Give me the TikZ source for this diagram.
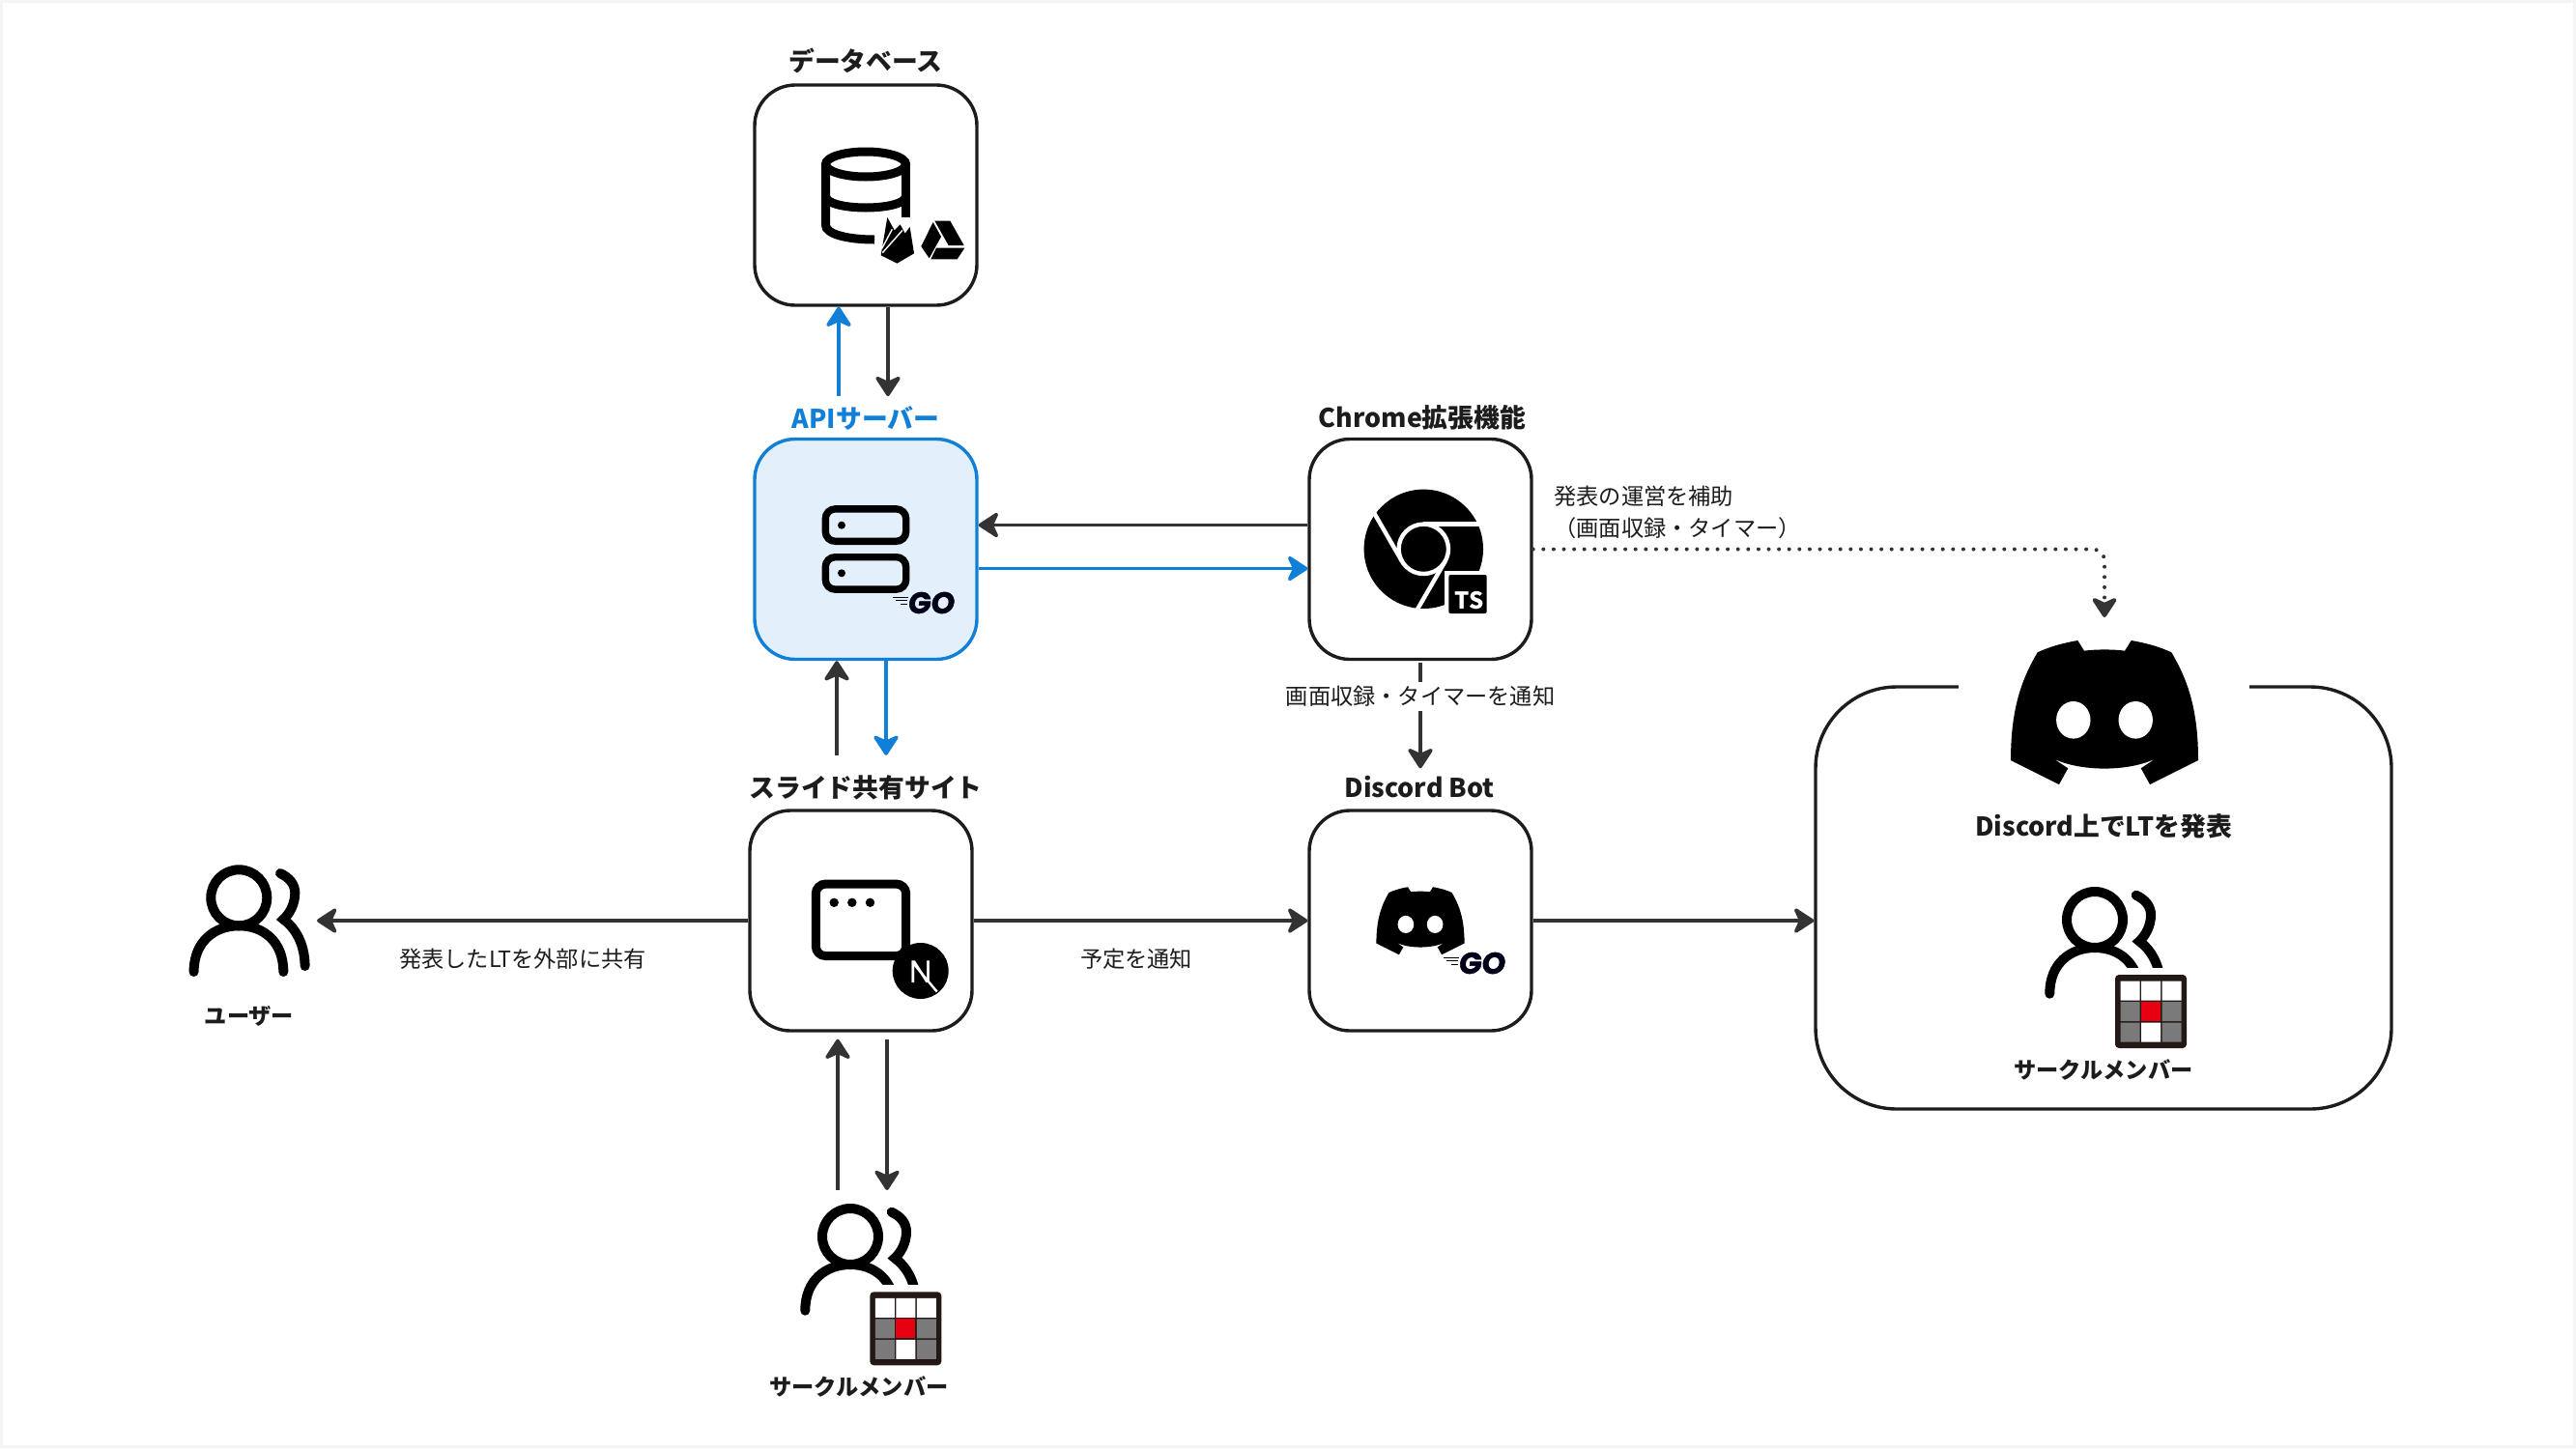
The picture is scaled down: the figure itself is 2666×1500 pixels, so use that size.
\documentclass[tikz,border=0pt]{standalone}
\usepackage{fontspec}
\usepackage{xcolor}
\usetikzlibrary{arrows.meta}
\setmainfont{Noto Sans CJK JP}
\newfontfamily\gofont[BoldFeatures={FakeSlant=0.12,FakeBold=1.5}]{Poppins}
\newfontfamily\nextfont{Liberation Sans}
\definecolor{wire}{HTML}{333333}
\definecolor{boxline}{HTML}{1C1C1C}
\definecolor{apiblue}{HTML}{0F7FD8}
\definecolor{apifill}{HTML}{E3F0FB}
\definecolor{framegray}{HTML}{F5F5F5}
\definecolor{badgeframe}{HTML}{231815}
\definecolor{badgegray}{HTML}{7A7A7A}
\definecolor{badgered}{HTML}{E60012}

\begin{document}
\begin{tikzpicture}
	[x=0.5pt,y=-0.5pt,
	>={Stealth[length=12pt,width=15.5pt,inset=3.5pt,round]},
	box/.style = {
		draw=boxline, fill=white, line width=1.7pt,
		rounded corners=21pt, minimum width=115pt, minimum height=114pt
	},
	title/.style = {
		inner sep=0pt, text=boxline, font=\fontsize{13.4}{15}\selectfont\bfseries
	},
	minilabel/.style = {
		inner sep=0pt, text=boxline, font=\fontsize{11.6}{14}\selectfont\bfseries
	},
	note/.style = {
		inner sep=0pt, text=boxline, font=\fontsize{11.6}{14}\selectfont
	},
	blackwire/.style = {
		draw=wire, line width=1.8pt
	},
	bluewire/.style = {
		draw=apiblue, line width=1.8pt
	},
	dotwire/.style = {
		draw=wire, line width=2pt, line cap=round,
		dash pattern=on 0pt off 5.3pt, rounded corners=6pt
	},
	dbicon/.pic = {
		\draw[line width=4.5pt] (0,0) ellipse [x radius=41.5, y radius=13];
		\draw[line width=4.5pt] (-41.5,0) -- (-41.5,63) .. controls (-41.5,72) and (-20,78) .. (9,78);
		\draw[line width=4.5pt] (-41.5,33) .. controls (-41.5,41) and (-20,45) .. (0,45) .. controls (20,45) and (41.5,41) .. (41.5,33);
		\draw[line width=4.5pt] (41.5,0) -- (41.5,55);
	},
	storebadges/.pic = {
		%flame
		\fill (475,585) -- (497,625) -- (515,607) -- (530,635) -- (545,615) -- (558,697) -- (505,728) -- (455,703) -- cycle;
		\draw[white,line width=0.7pt] (458,682) -- (490,622);
		\draw[white,line width=0.7pt] (460,695) -- (522,625);
		%drive
		\fill (617,600) -- (580,675) -- (605,712) -- (642,645) -- cycle;
		\fill (622,596) -- (670,596) -- (713,672) -- (665,672) -- cycle;
		\fill (627,680) -- (715,680) -- (692,715) -- (610,715) -- cycle;
	},
	servericon/.pic = {
		\draw[line width=3.7pt,rounded corners=5pt] (-41.7,-41.6) rectangle (41.7,-8.2);
		\draw[line width=3.7pt,rounded corners=5pt] (-41.7,8.2) rectangle (41.7,41.6);
		\fill (-25,-24.8) circle [radius=4];
		\fill (-25,24.8) circle [radius=4];
	},
	golang/.pic = {
		\node[inner sep=0pt,text=black!90!blue,font=\fontsize{15.5}{15}\gofont\bfseries] (gotext) at (0,0) {GO};
		\draw[line width=0.5pt] (-38.7,-5.7) -- (-23,-5.7);
		\draw[line width=0.5pt] (-36,-2.3) -- (-24,-2.3);
		\draw[line width=0.5pt] (-31,1) -- (-24,1);
	},
	chromeicon/.pic = {
		\fill (0,0) circle [radius=61.7];
		\draw[white,line width=2.2pt] (0,0) circle [radius=25.7];
		\draw[white,line width=2.2pt] (0,-25.7) -- (62,-25.7);
		\draw[white,line width=2.2pt,rotate=-120] (0,-25.7) -- (62,-25.7);
		\draw[white,line width=2.2pt,rotate=-240] (0,-25.7) -- (62,-25.7);
		\fill[white] (22,23) rectangle (69,70);
		\fill[rounded corners=1pt] (26,26.7) rectangle (65.4,66.7);
		\node[inner sep=0pt,text=white,font=\fontsize{12}{12}\selectfont\bfseries] (tstext) at (47,53) {TS};
	},
	browsericon/.pic = {
		\draw[line width=4.5pt,rounded corners=5pt] (-46.7,-37.2) rectangle (46.7,37.2);
		\fill (-27.8,-18) circle [radius=4.7];
		\fill (-9.2,-18) circle [radius=4.7];
		\fill (9.5,-18) circle [radius=4.7];
		\fill (61.7,52.7) circle [radius=29];
		\node[inner sep=0pt,text=white,font=\fontsize{16.5}{15}\nextfont] (ntext) at (61.7,53.5) {N};
		\draw[white,line width=1.2pt] (53.7,44.3) -- (78.7,74.3);
	},
	discordicon/.pic = {
		\fill (-27.7,-74) -- (-21,-63.3) .. controls (-10,-65) and (10,-65) .. (21,-63.3) -- (27.7,-74)
		.. controls (45,-71) and (58,-67) .. (69.3,-61.7) .. controls (85,-35) and (97,-5) .. (97,50)
		-- (47,75) -- (37.7,58.3) -- (52.7,48.3) .. controls (25,62) and (-25,62) .. (-52.7,48.3)
		-- (-37.7,58.3) -- (-47,75) -- (-97,50) .. controls (-97,-5) and (-85,-35) .. (-69.3,-61.7)
		.. controls (-58,-67) and (-45,-71) .. (-27.7,-74) -- cycle;
		\fill[white] (-32.2,8.3) ellipse [x radius=17.7, y radius=19.3];
		\fill[white] (32.2,8.3) ellipse [x radius=17.7, y radius=19.3];
	},
	usericon/.pic = {
		\draw[line width=5pt,line cap=round] (0,5) circle [radius=29];
		\draw[line width=5pt,line cap=round] (-46.7,81.7) .. controls (-46.7,50) and (-25,34) .. (0,34) .. controls (25,34) and (46,50) .. (46,81.7);
		\draw[line width=5pt,line cap=round] (42.7,-20.3) .. controls (52,-16) and (58,-9) .. (58,0) .. controls (58,12) and (52,22) .. (46,27.3) .. controls (58,36) and (68,52) .. (68.3,75.7);
	},
	circlebadge/.pic = {
		\fill[white] (-44,-45) rectangle (44,45);
		\fill[badgeframe,rounded corners=2pt] (-37,-38) rectangle (37,38);
		\fill[white] (-31.5,-31.5) rectangle (-11.5,-11.5) (-10,-31.5) rectangle (10,-11.5) (11.5,-31.5) rectangle (31.5,-11.5) (-10,11.5) rectangle (10,31.5);
		\fill[badgegray] (-31.5,-10) rectangle (-11.5,10) (11.5,-10) rectangle (31.5,10) (-31.5,11.5) rectangle (-11.5,31.5) (11.5,11.5) rectangle (31.5,31.5);
		\fill[badgered] (-10,-10) rectangle (10,10);
	}]
	
	\useasboundingbox (0,0) rectangle (2666,1500);
	\draw[framegray,line width=1.5pt] (1.5,1.5) rectangle (2664.5,1497);
	
	%Draw boxes
	\node[box] at (896,202) (DB) {};
	\node[box,draw=apiblue,fill=apifill] at (896,568.5) (API) {};
	\node[box] at (1470,568.5) (Chrome) {};
	\node[box] at (891,953) (Slide) {};
	\node[box] at (1470,953) (Bot) {};
	\node[draw=boxline,line width=1.7pt,rounded corners=42pt,minimum width=298pt,minimum height=218.5pt] at (2177,929.5) (stage) {};
	\node[fill=white,minimum width=150.5pt,minimum height=6pt,inner sep=0pt] at (2177.5,711) (stagegap) {};
	
	%Draw labels
	\node[title] at (896,63) (DBlabel) {データベース};
	\node[title,text=apiblue] at (896,433) (APIlabel) {APIサーバー};
	\node[title] at (1472,432) (Chromelabel) {Chrome拡張機能};
	\node[title] at (896,815) (Slidelabel) {スライド共有サイト};
	\node[title] at (1469,815) (Botlabel) {Discord Bot};
	\node[title] at (2177,855) (stagelabel) {Discord上でLTを発表};
	\node[minilabel] at (258,1052) (userlabel) {ユーザー};
	\node[minilabel] at (889,1435) (memberlabel) {サークルメンバー};
	\node[minilabel] at (2177,1107) (stagememberlabel) {サークルメンバー};
	\node[note,anchor=west] at (1608,514) (assist) {発表の運営を補助};
	\node[note,anchor=west] at (1608,547) (assist2) {（画面収録・タイマー）};
	\node[note] at (541,993) (sharelabel) {発表したLTを外部に共有};
	\node[note] at (1176,993) (planlabel) {予定を通知};
	
	\coordinate (usertip) at (328,953);
	\coordinate (membertop) at (892,1232);
	\coordinate (dottip) at (2178,639);
	
	%Draw icons
	\pic at (896,170) {dbicon};
	\pic[scale=1/3] at (760,30) {storebadges};
	\pic at (896,568.5) {servericon};
	\pic at (963,624) {golang};
	\pic at (1473.3,568.3) {chromeicon};
	\pic at (891,952.3) {browsericon};
	\pic[scale=0.47] at (1470,953) {discordicon};
	\pic at (1533,997) {golang};
	\pic at (2178,737) {discordicon};
	\pic at (247.3,924.3) {usericon};
	\pic at (880,1275) {usericon};
	\pic at (937.3,1375.3) {circlebadge};
	\pic at (2168,947) {usericon};
	\pic at (2226,1047) {circlebadge};
	
	%Draw wires
	\draw[->,bluewire,shorten <=5pt] ([xshift=-14pt]APIlabel.north) -- ([xshift=-14pt]DB.south);
	\draw[->,blackwire,shorten >=5pt] ([xshift=11.5pt]DB.south) -- ([xshift=11.5pt]APIlabel.north);
	
	\draw[->,blackwire] ([yshift=12.5pt]Chrome.west) -- ([yshift=12.5pt]API.east);
	\draw[->,bluewire] ([yshift=-10pt]API.east) -- ([yshift=-10pt]Chrome.west);
	
	\draw[->,blackwire,shorten <=10pt] ([xshift=-15pt]Slidelabel.north) -- ([xshift=-15pt]API.south);
	\draw[->,bluewire,shorten >=10pt] ([xshift=10.5pt]API.south) -- ([xshift=10.5pt]Slidelabel.north);
	
	\draw[->,blackwire,shorten <=1pt,shorten >=4pt] (Chrome.south) -- node[note,fill=white,inner sep=2pt,pos=0.31] (timerlabel) {画面収録・タイマーを通知} (Botlabel.north -| Chrome.south);
	
	\draw[->,blackwire] (Slide.west) -- (usertip);
	\draw[->,blackwire] (Slide.east) -- (Bot.west);
	\draw[->,blackwire] (Bot.east) -- (Bot.east -| stage.west);
	
	\draw[->,blackwire] ([xshift=-12.5pt]membertop) -- ([xshift=-12.5pt,yshift=-3.5pt]Slide.south -| membertop);
	\draw[->,blackwire] ([xshift=13pt,yshift=-3.5pt]Slide.south -| membertop) -- ([xshift=13pt]membertop);
	
	\draw[->,dotwire] (Chrome.east) -| (dottip);
	
\end{tikzpicture}
\end{document}
